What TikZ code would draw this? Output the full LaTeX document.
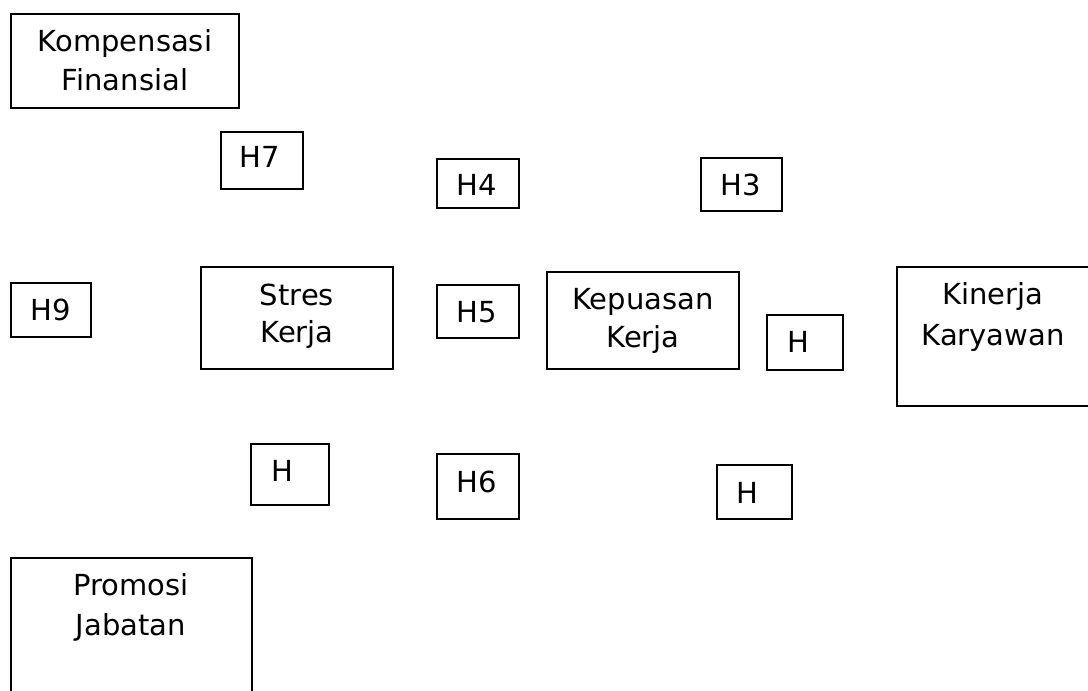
\documentclass[tikz,border=0pt]{standalone}
\usepackage{fontspec}
\setmainfont{DejaVu Sans}
\usetikzlibrary{fit}
\begin{document}
\begin{tikzpicture}[x=0.75pt,y=-0.75pt,
  box/.style={draw=black, line width=1.5pt, inner sep=0pt, fill=none},
  txt/.style={anchor=base, inner sep=0pt, font=\fontsize{21.75}{29}\selectfont}]
\useasboundingbox (0,0) rectangle (1088,691);
\fill[white] (0,0) rectangle (1088,691);
% boxes
\node[box, fit={(11,14) (239,108)}] (komp) {};
\node[box, fit={(221,132) (303,189)}] (h7) {};
\node[box, fit={(437,159) (519,208)}] (h4) {};
\node[box, fit={(701,158) (782,211)}] (h3) {};
\node[box, fit={(11,283) (91,337)}] (h9) {};
\node[box, fit={(201,267) (393,369)}] (stres) {};
\node[box, fit={(437,285) (519,338)}] (h5) {};
\node[box, fit={(547,272) (739,369)}] (kepuasan) {};
\node[box, fit={(767,315) (843,370)}] (hmid) {};
\node[box, fit={(897,267) (1092,406)}] (kinerja) {};
\node[box, fit={(251,444) (329,505)}] (hleft) {};
\node[box, fit={(437,454) (519,519)}] (h6) {};
\node[box, fit={(717,465) (792,519)}] (hright) {};
\node[box, fit={(11,558) (252,700)}] (promosi) {};
% texts
\node[txt] (kompA) at (125,52) {Kompensasi};
\node[txt] (kompB) at (125,91) {Finansial};
\node[txt] (h7t) at (260,168) {H7};
\node[txt] (h4t) at (477,196) {H4};
\node[txt] (h3t) at (741,196) {H3};
\node[txt] (h9t) at (51,321) {H9};
\node[txt] (stresA) at (297,306) {Stres};
\node[txt] (stresB) at (297,343) {Kerja};
\node[txt] (h5t) at (477,323) {H5};
\node[txt] (kepA) at (643,310) {Kepuasan};
\node[txt] (kepB) at (643,348) {Kerja};
\node[txt] (hmidt) at (798,353) {H};
\node[txt] (kinA) at (993,305) {Kinerja};
\node[txt] (kinB) at (993,345) {Karyawan};
\node[txt] (hleftt) at (282,481) {H};
\node[txt] (h6t) at (477,492) {H6};
\node[txt] (hrightt) at (747.5,503) {H};
\node[txt] (proA) at (131,595) {Promosi};
\node[txt] (proB) at (131,635) {Jabatan};
\end{tikzpicture}
\end{document}
